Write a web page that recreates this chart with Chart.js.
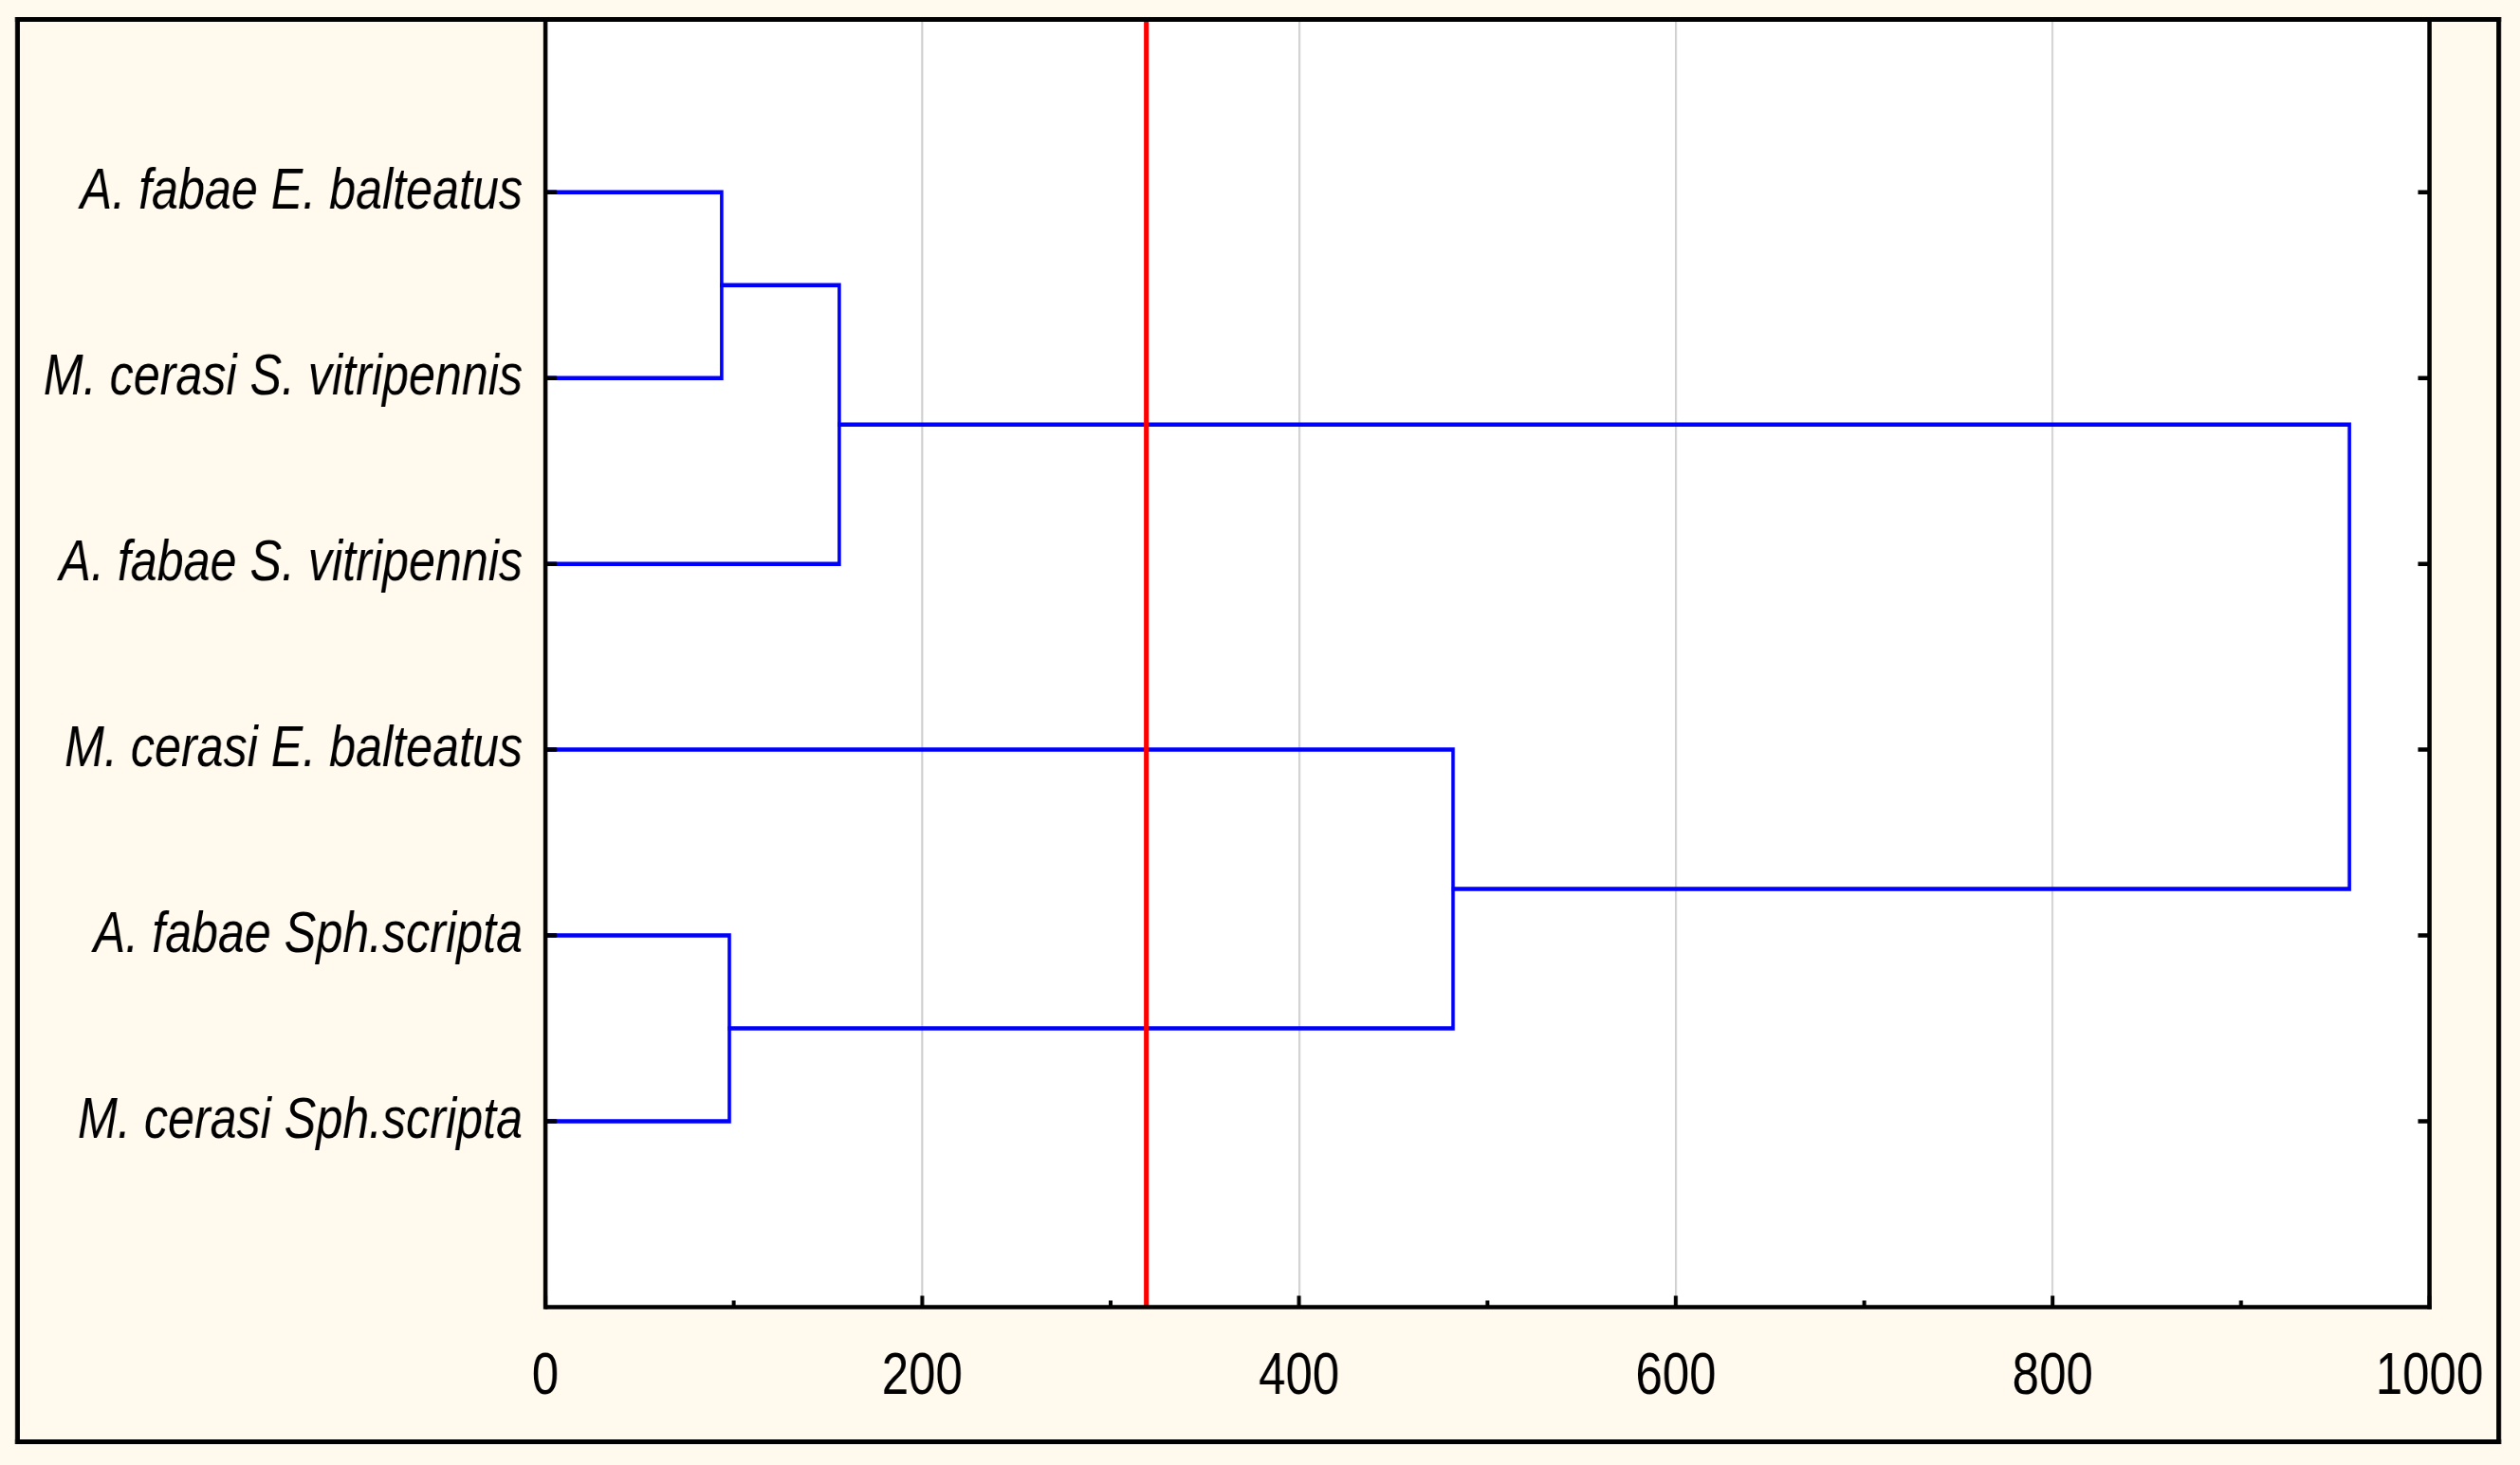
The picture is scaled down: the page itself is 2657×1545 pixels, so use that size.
<!DOCTYPE html>
<html>
<head>
<meta charset="utf-8">
<script src="https://cdn.jsdelivr.net/npm/chart.js"></script>
<style>
html, body { margin: 0; padding: 0; background: #ffffff; overflow: hidden; }
#wrap { width: 2657px; height: 1545px; position: relative; overflow: hidden; }
#c { display: block; width: 3280px; height: 1545px; transform: scaleX(0.810061); transform-origin: 0 0; }
</style>
</head>
<body>
<div id="wrap"><canvas id="c" width="3280" height="1545"></canvas></div>
<script>
// ---- data ----
const leafLabels = [
  "A. fabae E. balteatus",
  "M. cerasi S. vitripennis",
  "A. fabae S. vitripennis",
  "M. cerasi E. balteatus",
  "A. fabae Sph.scripta",
  "M. cerasi Sph.scripta"
];
// merges: clusters numbered after the leaves (6, 7, 8, ...)
const mergeLeft    = [0, 6, 4, 3, 7];
const mergeRight   = [1, 2, 5, 8, 9];
const mergeHeights = [93.6, 156, 97.7, 481.8, 957.5];
const cutLevel = 319;
const xTickValues = [0, 200, 400, 600, 800, 1000];
const xTickLabels = ["0", "200", "400", "600", "800", "1000"];
const xMinorTickValues = [100, 300, 500, 700, 900];

// The canvas is drawn wider and shown horizontally condensed (narrow type, like the original)
const CANVAS_W = 3280, CANVAS_H = 1545;
const SX = 2657 / CANVAS_W;
const ix = x => x / SX;

// ---- build dendrogram link datasets ----
const nodeX = leafLabels.map(() => 0);
const nodeY = leafLabels.map((_, i) => i + 1);
const linkDatasets = [];
for (let k = 0; k < mergeHeights.length; k++) {
  const a = mergeLeft[k], b = mergeRight[k], h = mergeHeights[k];
  linkDatasets.push({
    data: [
      { x: nodeX[a], y: nodeY[a] },
      { x: h, y: nodeY[a] },
      { x: h, y: nodeY[b] },
      { x: nodeX[b], y: nodeY[b] }
    ],
    borderColor: "#0000ff",
    borderWidth: 4.5,
    showLine: true,
    pointRadius: 0,
    fill: false,
    tension: 0,
    borderJoinStyle: "miter",
    borderCapStyle: "square",
    order: 2
  });
  nodeX.push(h);
  nodeY.push((nodeY[a] + nodeY[b]) / 2);
}

const Y_MIN = 0.07, Y_MAX = 7.0;
const cutDataset = {
  data: [{ x: cutLevel, y: Y_MIN }, { x: cutLevel, y: Y_MAX }],
  borderColor: "#ff0000",
  borderWidth: ix(5),
  showLine: true,
  pointRadius: 0,
  fill: false,
  order: 1
};

const FONT = "'Liberation Sans', Arial, Helvetica, sans-serif";
const BEIGE = "#fff9ee";

const framePlugin = {
  id: "frame",
  beforeDraw(chart) {
    const { ctx, chartArea: a } = chart;
    ctx.save();
    ctx.fillStyle = BEIGE;
    ctx.fillRect(0, 0, chart.width, chart.height);
    ctx.fillStyle = "#ffffff";
    ctx.fillRect(a.left, a.top, a.right - a.left, a.bottom - a.top);
    ctx.restore();
  },
  afterDatasetsDraw(chart) {
    const { ctx, chartArea: a } = chart;
    const xs = chart.scales.x, ys = chart.scales.y;
    ctx.save();
    ctx.strokeStyle = "#000000";
    ctx.lineCap = "butt";
    // y ticks (left & right, inward)
    ctx.lineWidth = 4.5;
    leafLabels.forEach((_, i) => {
      const py = ys.getPixelForValue(i + 1);
      ctx.beginPath();
      ctx.moveTo(a.left, py); ctx.lineTo(a.left + ix(12), py);
      ctx.moveTo(a.right, py); ctx.lineTo(a.right - ix(12), py);
      ctx.stroke();
    });
    // x major & minor ticks (inward)
    ctx.lineWidth = ix(4);
    xTickValues.forEach(v => {
      const px = xs.getPixelForValue(v);
      ctx.beginPath(); ctx.moveTo(px, a.bottom); ctx.lineTo(px, a.bottom - 12); ctx.stroke();
    });
    xMinorTickValues.forEach(v => {
      const px = xs.getPixelForValue(v);
      ctx.beginPath(); ctx.moveTo(px, a.bottom); ctx.lineTo(px, a.bottom - 7); ctx.stroke();
    });
    // plot borders
    ctx.lineWidth = ix(4.5);
    ctx.beginPath();
    ctx.moveTo(a.left, a.top); ctx.lineTo(a.left, a.bottom + 2.25);
    ctx.moveTo(a.right, a.top); ctx.lineTo(a.right, a.bottom + 2.25);
    ctx.stroke();
    ctx.lineWidth = 4.5;
    ctx.beginPath();
    ctx.moveTo(a.left, a.bottom); ctx.lineTo(a.right + ix(2.25), a.bottom);
    ctx.stroke();
    // outer frame
    const L = ix(18.5), R = ix(2634.5), T = 20.5, B = 1520.5;
    ctx.lineWidth = 5;
    ctx.beginPath();
    ctx.moveTo(L - ix(2.5), T); ctx.lineTo(R + ix(2.5), T);
    ctx.moveTo(L - ix(2.5), B); ctx.lineTo(R + ix(2.5), B);
    ctx.stroke();
    ctx.lineWidth = ix(5);
    ctx.beginPath();
    ctx.moveTo(L, T - 2.5); ctx.lineTo(L, B + 2.5);
    ctx.moveTo(R, T - 2.5); ctx.lineTo(R, B + 2.5);
    ctx.stroke();
    ctx.restore();
  }
};

new Chart(document.getElementById("c"), {
  type: "scatter",
  data: { datasets: [cutDataset, ...linkDatasets] },
  options: {
    responsive: false,
    devicePixelRatio: 1,
    animation: false,
    layout: { padding: { top: 20.5, right: CANVAS_W - ix(2561.5), bottom: 0, left: 0 } },
    plugins: { legend: { display: false }, tooltip: { enabled: false } },
    scales: {
      x: {
        type: "linear",
        position: "bottom",
        min: 0, max: 1000,
        afterBuildTicks: s => { s.ticks = xTickValues.map(v => ({ value: v })); },
        afterFit: s => {
          s.height = CANVAS_H - 1378.5;
          s.paddingLeft = 0; s.paddingRight = 0; s.paddingTop = 0; s.paddingBottom = 0;
        },
        ticks: {
          autoSkip: false, maxRotation: 0, minRotation: 0,
          callback: (v) => xTickLabels[xTickValues.indexOf(v)],
          color: "#000000",
          font: { family: FONT, size: 63 },
          padding: 36
        },
        grid: {
          drawTicks: false,
          lineWidth: ix(2),
          color: c => (c.tick && (c.tick.value === 0 || c.tick.value === 1000)) ? "rgba(0,0,0,0)" : "#cfcfcf"
        },
        border: { display: false }
      },
      y: {
        type: "linear",
        position: "left",
        reverse: true,
        min: Y_MIN, max: Y_MAX,
        afterBuildTicks: s => { s.ticks = leafLabels.map((_, i) => ({ value: i + 1 })); },
        afterFit: s => {
          s.width = ix(575);
          s.paddingLeft = 0; s.paddingRight = 0; s.paddingTop = 0; s.paddingBottom = 0;
        },
        ticks: {
          autoSkip: false,
          callback: (v) => leafLabels[v - 1],
          color: "#000000",
          font: { family: FONT, size: 62, style: "italic" },
          padding: ix(24)
        },
        grid: { display: false, drawTicks: false },
        border: { display: false }
      }
    }
  },
  plugins: [framePlugin]
});
</script>
</body>
</html>
